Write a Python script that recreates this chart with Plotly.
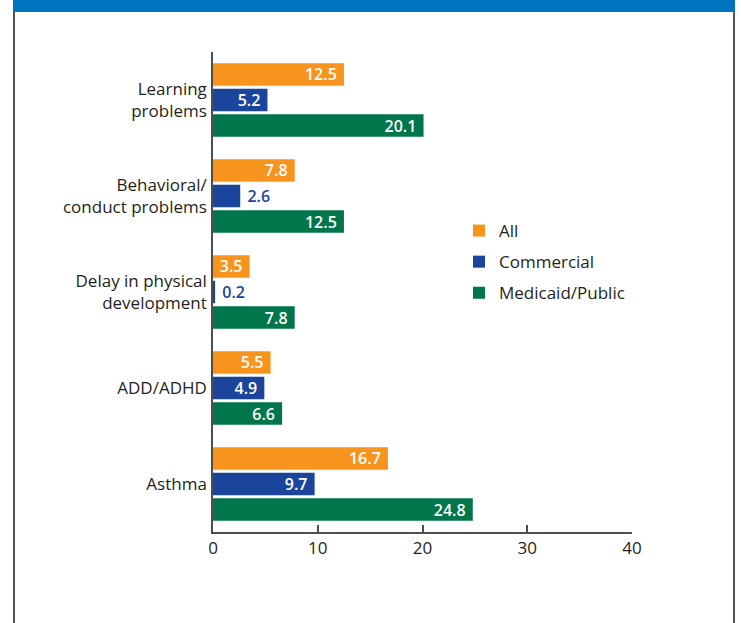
import plotly.graph_objects as go

categories = ["Learning<br>problems", "Behavioral/<br>conduct problems", "Delay in physical<br>development", "ADD/ADHD", "Asthma"]
all_vals = [12.5, 7.8, 3.5, 5.5, 16.7]
commercial_vals = [5.2, 2.6, 0.2, 4.9, 9.7]
medicaid_vals = [20.1, 12.5, 7.8, 6.6, 24.8]
x_ticks = [0, 10, 20, 30, 40]

ORANGE = "#F7941D"
BLUE = "#1B449C"
GREEN = "#00764A"
TEXT = "#231F20"
FONT = "Open Sans"

W, H = 741, 623
L, R, T, B = 213, 632, 52, 532


def px(x):
    return (x - L) / (R - L)


def py(y):
    return (B - y) / (B - T)


fig = go.Figure()
series = [("All", all_vals, ORANGE), ("Commercial", commercial_vals, BLUE), ("Medicaid/Public", medicaid_vals, GREEN)]
for name, vals, col in series:
    pos = ["inside" if v >= 3 else "outside" for v in vals]
    texts = [f"{v}\u00a0" if p == "inside" else f"\u00a0{v}" for v, p in zip(vals, pos)]
    fig.add_trace(go.Bar(
        name=name, y=categories, x=vals, orientation="h", legendgroup=name,
        marker=dict(color=col, line=dict(width=0)),
        text=texts, textposition=pos, insidetextanchor="end",
        constraintext="none", cliponaxis=False,
        insidetextfont=dict(color="white", size=16, family=FONT, weight=600),
        outsidetextfont=dict(color=BLUE, size=16, family=FONT, weight=600),
        hoverinfo="skip",
    ))

fig.update_layout(
    width=W, height=H,
    margin=dict(l=L, r=W - R, t=T, b=H - B, pad=0),
    paper_bgcolor="white", plot_bgcolor="white",
    barmode="group", bargap=0.2, bargroupgap=0.12,
    font=dict(family=FONT, color=TEXT, size=17),
    legend=dict(x=px(459), y=py(213), xanchor="left", yanchor="top",
                font=dict(size=17, color=TEXT, family=FONT),
                itemwidth=30, tracegroupgap=6, bgcolor="rgba(0,0,0,0)"),
    showlegend=True,
)
fig.update_xaxes(range=[0, 40], tickvals=x_ticks, ticks="inside", ticklen=7, tickwidth=1.5,
                 tickcolor="#4D4D4D", showline=True, linecolor="#4D4D4D", linewidth=1.5,
                 showgrid=False, zeroline=False, tickfont=dict(size=17, color=TEXT), fixedrange=True)
fig.update_yaxes(autorange="reversed", showline=True, linecolor="#4D4D4D", linewidth=1.5,
                 showgrid=False, ticks="", ticklabelstandoff=1,
                 tickfont=dict(size=17, color=TEXT), fixedrange=True)

shapes = [
    dict(type="rect", xref="paper", yref="paper", x0=px(13), x1=px(735), y0=py(0), y1=py(12),
         fillcolor="#0075BF", line=dict(width=0), layer="above"),
    dict(type="line", xref="paper", yref="paper", x0=px(14), x1=px(14), y0=py(12), y1=py(623),
         line=dict(color="#555555", width=2)),
    dict(type="line", xref="paper", yref="paper", x0=px(734), x1=px(734), y0=py(12), y1=py(623),
         line=dict(color="#555555", width=2)),
]
fig.update_layout(shapes=shapes)

fig.write_html("out.html", config=dict(displayModeBar=False),
               post_script="document.body.style.margin='0';document.body.style.overflow='hidden';")
